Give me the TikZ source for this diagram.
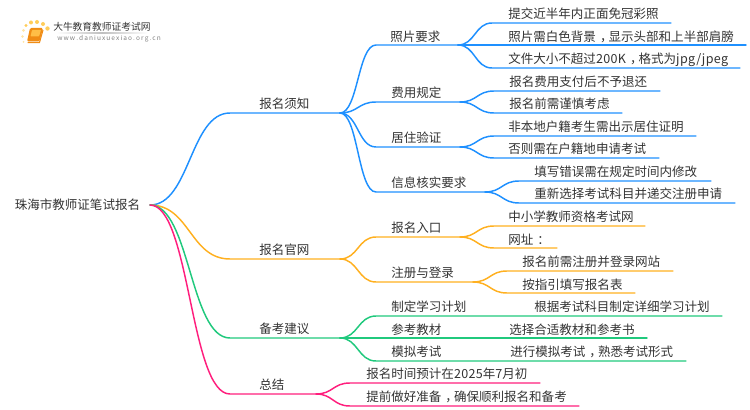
\documentclass[tikz,border=0pt]{standalone}
\usepackage{fontspec}
\setmainfont{Noto Sans CJK SC}
\usepackage{xcolor}
\definecolor{blueline}{RGB}{30,144,255}
\definecolor{orangeline}{RGB}{255,176,32}
\definecolor{greenline}{RGB}{32,201,125}
\definecolor{pinkline}{RGB}{255,30,125}
\definecolor{labeltext}{RGB}{51,51,51}
\definecolor{bookdark}{RGB}{240,140,20}
\definecolor{booklight}{RGB}{255,190,70}
\definecolor{dotstrong}{RGB}{255,205,90}
\definecolor{dotweak}{RGB}{255,228,165}
\newcommand{\midmark}[1]{\kern.32em #1\kern-.32em}
\newcommand{\lat}[1]{{\addfontfeature{LetterSpace=3}#1}}
\tikzset{
  lab/.style={anchor=west,inner sep=0pt,text=labeltext,font=\fontsize{9.4pt}{11pt}\selectfont},
  wire/.style={line width=1.1pt,line cap=round},
}
\begin{document}
\begin{tikzpicture}[x=0.75pt,y=0.75pt,yscale=-1]
\useasboundingbox (0,0) rectangle (750,410);

%Logo
\fill[bookdark,rounded corners=1pt] (30,28) -- (43,28) -- (39.5,41.5) -- (27,41.5) -- cycle;
\fill[booklight,rounded corners=0.5pt] (32,30) -- (41,30) -- (39,36.5) -- (30.5,36.5) -- cycle;
\draw[bookdark,line width=0.8pt] (27.5,42.5) -- (39.5,42.5) -- (43,30);
\fill[dotstrong] (37,22) circle (2) (43,24) circle (2) (47.5,28.5) circle (2.2) (31,22.5) circle (2) (26,25.5) circle (1.7);
\fill[dotweak] (23.5,30.5) circle (1.5) (22.5,36.5) circle (1.3) (23.5,42) circle (1);
\node[anchor=west,inner sep=0pt,text=labeltext,font=\fontsize{7.3pt}{9pt}\selectfont] (logotitle) at (53,26.5) {大牛教育教师证考试网};
\node[anchor=west,inner sep=0pt,text=black!50,font=\fontsize{4.9pt}{6pt}\selectfont] (logourl) at (57,39) {w\,w\,w\,.\,d\,a\,n\,i\,u\,x\,u\,e\,x\,i\,a\,o\,.\,o\,r\,g\,.\,c\,n};
\shade[left color=white,right color=white,middle color=black!25] (56,33) rectangle (148,33.7);

% Text Node
\node[lab] (root) at (14.5,205) {珠海市教师证笔试报名};
\node[lab] (notice) at (259,104) {报名须知};
\node[lab] (site) at (259,250) {报名官网};
\node[lab] (advice) at (259,329) {备考建议};
\node[lab] (summary) at (259,385) {总结};

\node[lab] (photo) at (390,37) {照片要求};
\node[lab] (fee) at (391,93) {费用规定};
\node[lab] (residence) at (391,138) {居住验证};
\node[lab] (verify) at (391,183) {信息核实要求};
\node[lab] (entry) at (391,228) {报名入口};
\node[lab] (register) at (391,273) {注册与登录};
\node[lab] (plan) at (391,307) {制定学习计划};
\node[lab] (books) at (391,330) {参考教材};
\node[lab] (mock) at (391,352) {模拟考试};

\node[lab] (photoa) at (508,14) {提交近半年内正面免冠彩照};
\node[lab] (photob) at (508,37) {照片需白色背景\midmark{，}显示头部和上半部肩膀};
\node[lab] (photoc) at (508,60) {文件大小不超过\lat{200K}\midmark{，}格式为\lat{jpg/jpeg}};
\node[lab] (feea) at (509,82) {报名费用支付后不予退还};
\node[lab] (feeb) at (509,104) {报名前需谨慎考虑};
\node[lab] (resa) at (508,127) {非本地户籍考生需出示居住证明};
\node[lab] (resb) at (508,149) {否则需在户籍地申请考试};
\node[lab] (verifya) at (534,172) {填写错误需在规定时间内修改};
\node[lab] (verifyb) at (534,194) {重新选择考试科目并递交注册申请};
\node[lab] (entrya) at (508,217) {中小学教师资格考试网};
\node[lab] (entryb) at (508,240) {网址\midmark{：}};
\node[lab] (rega) at (522,262) {报名前需注册并登录网站};
\node[lab] (regb) at (522,285) {按指引填写报名表};
\node[lab] (plana) at (534,307) {根据考试科目制定详细学习计划};
\node[lab] (booksa) at (509,330) {选择合适教材和参考书};
\node[lab] (mocka) at (510,352) {进行模拟考试\midmark{，}熟悉考试形式};
\node[lab] (suma) at (366,374) {报名时间预计在\lat{2025}年\lat{7}月初};
\node[lab] (sumb) at (366,397) {提前做好准备\midmark{，}确保顺利报名和备考};

% Branch points
\coordinate (start) at (150,205);
\coordinate (noticeL) at (230,113);
\coordinate (noticeR) at (340,113);
\coordinate (siteL) at (230,259);
\coordinate (siteR) at (340,259);
\coordinate (adviceL) at (230,338);
\coordinate (adviceR) at (340,338);
\coordinate (summaryL) at (230,394);
\coordinate (summaryR) at (316,394);

\coordinate (photoL) at (376,45);
\coordinate (photoR) at (458,45);
\coordinate (feeL) at (376,102);
\coordinate (feeR) at (460,102);
\coordinate (residenceL) at (376,147);
\coordinate (residenceR) at (460,147);
\coordinate (verifyL) at (376,192);
\coordinate (verifyR) at (485,192);
\coordinate (entryL) at (376,237);
\coordinate (entryR) at (460,237);
\coordinate (registerL) at (376,282);
\coordinate (registerR) at (473,282);
\coordinate (planL) at (376,316);
\coordinate (booksL) at (376,338);
\coordinate (mockL) at (376,361);

\coordinate (photoaL) at (492,23);
\coordinate (photoaR) at (671,23);
\coordinate (photobR) at (746,45);
\coordinate (photocL) at (492,68);
\coordinate (photocR) at (740,68);
\coordinate (feeaL) at (494,91);
\coordinate (feeaR) at (660,91);
\coordinate (feebL) at (494,113);
\coordinate (feebR) at (622,113);
\coordinate (resaL) at (494,136);
\coordinate (resaR) at (696,136);
\coordinate (resbL) at (494,158);
\coordinate (resbR) at (659,158);
\coordinate (verifyaL) at (519,181);
\coordinate (verifyaR) at (711,181);
\coordinate (verifybL) at (519,203);
\coordinate (verifybR) at (735,203);
\coordinate (entryaL) at (494,226);
\coordinate (entryaR) at (645,226);
\coordinate (entrybL) at (494,248);
\coordinate (entrybR) at (557,248);
\coordinate (regaL) at (507,271);
\coordinate (regaR) at (673,271);
\coordinate (regbL) at (507,293);
\coordinate (regbR) at (635,293);
\coordinate (planaR) at (722,316);
\coordinate (booksaR) at (647,338);
\coordinate (mockaR) at (686,361);
\coordinate (sumaL) at (350,383);
\coordinate (sumaR) at (540,383);
\coordinate (sumbL) at (350,406);
\coordinate (sumbR) at (579,406);

% Blue
\begin{scope}[wire,blueline]
\draw (start) .. controls +(40,0) and +(-40,0) .. (noticeL) -- (noticeR);
\draw (noticeR) .. controls +(18,0) and +(-18,0) .. (photoL) -- (photoR);
\draw (noticeR) .. controls +(18,0) and +(-18,0) .. (feeL) -- (feeR);
\draw (noticeR) .. controls +(18,0) and +(-18,0) .. (residenceL) -- (residenceR);
\draw (noticeR) .. controls +(18,0) and +(-18,0) .. (verifyL) -- (verifyR);
\draw (photoR) .. controls +(17,0) and +(-17,0) .. (photoaL) -- (photoaR);
\draw (photoR) -- (photobR);
\draw (photoR) .. controls +(17,0) and +(-17,0) .. (photocL) -- (photocR);
\draw (feeR) .. controls +(17,0) and +(-17,0) .. (feeaL) -- (feeaR);
\draw (feeR) .. controls +(17,0) and +(-17,0) .. (feebL) -- (feebR);
\draw (residenceR) .. controls +(17,0) and +(-17,0) .. (resaL) -- (resaR);
\draw (residenceR) .. controls +(17,0) and +(-17,0) .. (resbL) -- (resbR);
\draw (verifyR) .. controls +(17,0) and +(-17,0) .. (verifyaL) -- (verifyaR);
\draw (verifyR) .. controls +(17,0) and +(-17,0) .. (verifybL) -- (verifybR);
\end{scope}
% Orange
\begin{scope}[wire,orangeline]
\draw (start) .. controls +(40,0) and +(-40,0) .. (siteL) -- (siteR);
\draw (siteR) .. controls +(18,0) and +(-18,0) .. (entryL) -- (entryR);
\draw (siteR) .. controls +(18,0) and +(-18,0) .. (registerL) -- (registerR);
\draw (entryR) .. controls +(17,0) and +(-17,0) .. (entryaL) -- (entryaR);
\draw (entryR) .. controls +(17,0) and +(-17,0) .. (entrybL) -- (entrybR);
\draw (registerR) .. controls +(17,0) and +(-17,0) .. (regaL) -- (regaR);
\draw (registerR) .. controls +(17,0) and +(-17,0) .. (regbL) -- (regbR);
\end{scope}
% Green
\begin{scope}[wire,greenline]
\draw (start) .. controls +(40,0) and +(-40,0) .. (adviceL) -- (adviceR);
\draw (adviceR) .. controls +(18,0) and +(-18,0) .. (planL) -- (planaR);
\draw (adviceR) -- (booksaR);
\draw (adviceR) .. controls +(18,0) and +(-18,0) .. (mockL) -- (mockaR);
\end{scope}
% Pink
\begin{scope}[wire,pinkline]
\draw (start) .. controls +(40,0) and +(-40,0) .. (summaryL) -- (summaryR);
\draw (summaryR) .. controls +(17,0) and +(-17,0) .. (sumaL) -- (sumaR);
\draw (summaryR) .. controls +(17,0) and +(-17,0) .. (sumbL) -- (sumbR);
\end{scope}

\end{tikzpicture}
\end{document}
